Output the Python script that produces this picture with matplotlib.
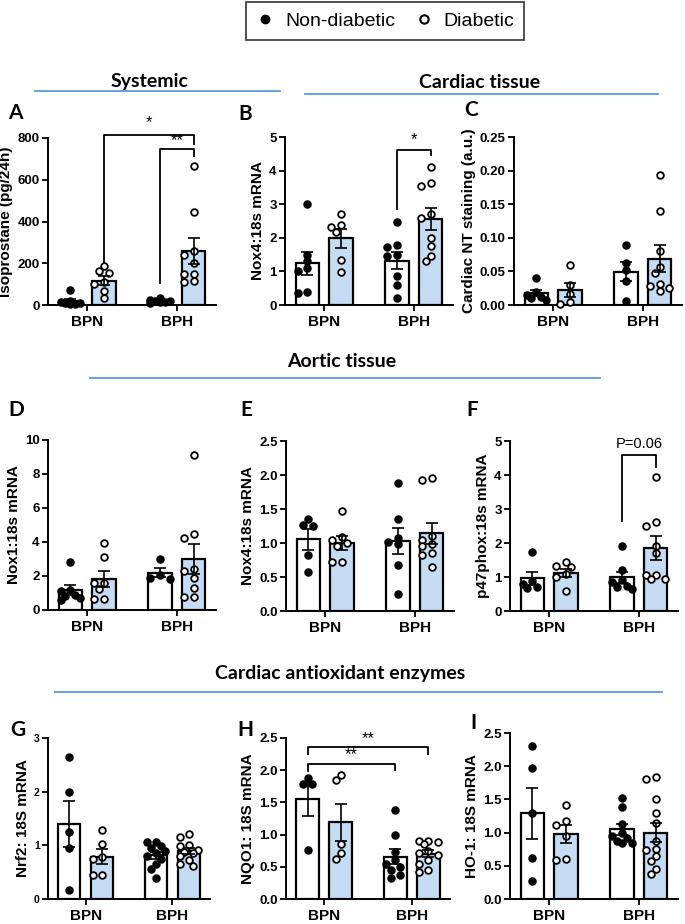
import numpy as np
import matplotlib.pyplot as plt
from matplotlib.lines import Line2D

W, H = 685, 924
fig = plt.figure(figsize=(W / 100, H / 100), dpi=100)

plt.rcParams["font.family"] = ["Liberation Sans", "DejaVu Sans"]

groups = ["BPN", "BPH"]
blue_fill = "#c6dcf4"
head_line = "#5b9bd5"

# -----------------------------
# data (BPN / BPH, non-diabetic vs diabetic)
# -----------------------------
iso_bpn_nd = [70, 18, 10, 5, 8, 12, 6]
iso_bpn_d = [186, 163, 155, 112, 100, 67, 33]
iso_bph_nd = [35, 25, 20, 15, 12, 18, 10]
iso_bph_d = [666, 446, 257, 241, 199, 150, 150, 115, 112]

nox4c_bpn_nd = [3.0, 1.5, 1.3, 1.1, 1.0, 0.4, 0.35]
nox4c_bpn_d = [2.7, 2.37, 2.32, 2.18, 1.35, 0.98]
nox4c_bph_nd = [2.47, 1.8, 1.72, 1.5, 1.45, 0.85, 0.6, 0.2]
nox4c_bph_d = [4.1, 3.62, 3.53, 2.7, 2.58, 2.0, 1.75, 1.45, 1.3]

nt_bpn_nd = [0.04, 0.02, 0.015, 0.012, 0.01, 0.008]
nt_bpn_d = [0.06, 0.03, 0.016, 0.004, 0.002]
nt_bph_nd = [0.090, 0.063, 0.052, 0.036, 0.006]
nt_bph_d = [0.193, 0.14, 0.08, 0.056, 0.048, 0.031, 0.028, 0.025, 0.021]

nox1_bpn_nd = [2.8, 1.2, 1.1, 0.9, 0.8, 0.7, 0.6]
nox1_bpn_d = [3.92, 3.1, 1.6, 1.25, 1.6, 0.65, 0.65]
nox1_bph_nd = [3.0, 2.05, 1.9, 1.8]
nox1_bph_d = [9.1, 4.5, 4.25, 2.4, 2.3, 1.9, 1.3, 0.75, 0.75]

nox4a_bpn_nd = [1.35, 1.26, 1.25, 0.83, 0.57]
nox4a_bpn_d = [1.47, 1.09, 1.05, 1.0, 0.95, 0.72, 0.72]
nox4a_bph_nd = [1.88, 1.35, 1.08, 1.02, 0.98, 0.68, 0.25]
nox4a_bph_d = [1.95, 1.93, 1.1, 1.05, 0.98, 0.95, 0.85, 0.82, 0.65]

p47_bpn_nd = [1.73, 0.88, 0.8, 0.7, 0.68]
p47_bpn_d = [1.45, 1.32, 1.28, 1.1, 1.0, 0.6]
p47_bph_nd = [1.9, 1.2, 0.9, 0.85, 0.75, 0.7, 0.65]
p47_bph_d = [3.93, 2.62, 2.5, 1.92, 1.7, 1.07, 1.05, 0.95, 0.93]

nrf2_bpn_nd = [2.65, 2.0, 1.25, 0.95, 0.17]
nrf2_bpn_d = [1.28, 1.03, 0.78, 0.75, 0.45, 0.45]
nrf2_bph_nd = [1.07, 1.06, 0.98, 0.95, 0.9, 0.85, 0.8, 0.75, 0.65, 0.55, 0.4]
nrf2_bph_d = [1.22, 1.15, 1.0, 0.98, 0.92, 0.88, 0.85, 0.8, 0.72, 0.65, 0.62]

nqo1_bpn_nd = [1.88, 1.78, 1.78, 0.76]
nqo1_bpn_d = [1.93, 1.85, 0.85, 0.72, 0.62]
nqo1_bph_nd = [1.38, 1.0, 0.73, 0.6, 0.55, 0.5, 0.45, 0.38, 0.33]
nqo1_bph_d = [0.9, 0.9, 0.88, 0.85, 0.75, 0.72, 0.68, 0.6, 0.55, 0.45, 0.42]

ho1_bpn_nd = [2.3, 1.97, 1.29, 0.62, 0.27]
ho1_bpn_d = [1.42, 1.18, 1.12, 0.95, 0.6, 0.59]
ho1_bph_nd = [1.52, 1.38, 1.13, 1.0, 0.95, 0.92, 0.88, 0.85, 0.84]
ho1_bph_d = [1.84, 1.8, 1.5, 1.29, 1.14, 0.87, 0.76, 0.74, 0.65, 0.57, 0.45, 0.38]

# -----------------------------
# panel layout (pixels: left, top, width, height)
# -----------------------------
panels = [
    ("A", "Isoprostane (pg/24h)", [iso_bpn_nd, iso_bpn_d, iso_bph_nd, iso_bph_d],
     np.arange(0, 801, 200), "{:.0f}", (48, 138, 168, 167)),
    ("B", "Nox4:18s mRNA", [nox4c_bpn_nd, nox4c_bpn_d, nox4c_bph_nd, nox4c_bph_d],
     np.arange(0, 6, 1), "{:.0f}", (285, 137, 168, 168)),
    ("C", "Cardiac NT staining (a.u.)", [nt_bpn_nd, nt_bpn_d, nt_bph_nd, nt_bph_d],
     np.arange(0, 0.26, 0.05), "{:.2f}", (514, 137, 168, 168)),
    ("D", "Nox1:18s mRNA", [nox1_bpn_nd, nox1_bpn_d, nox1_bph_nd, nox1_bph_d],
     np.arange(0, 11, 2), "{:.0f}", (48, 440, 168, 170)),
    ("E", "Nox4:18s mRNA", [nox4a_bpn_nd, nox4a_bpn_d, nox4a_bph_nd, nox4a_bph_d],
     np.arange(0, 2.6, 0.5), "{:.1f}", (286, 441, 168, 170)),
    ("F", "p47phox:18s mRNA", [p47_bpn_nd, p47_bpn_d, p47_bph_nd, p47_bph_d],
     np.arange(0, 6, 1), "{:.0f}", (510, 441, 168, 170)),
    ("G", "Nrf2: 18S mRNA", [nrf2_bpn_nd, nrf2_bpn_d, nrf2_bph_nd, nrf2_bph_d],
     np.arange(0, 4, 1), "{:.0f}", (48, 738, 162, 161)),
    ("H", "NQO1: 18S mRNA", [nqo1_bpn_nd, nqo1_bpn_d, nqo1_bph_nd, nqo1_bph_d],
     np.arange(0, 2.6, 0.5), "{:.1f}", (286, 738, 164, 161)),
    ("I", "HO-1: 18S mRNA", [ho1_bpn_nd, ho1_bpn_d, ho1_bph_nd, ho1_bph_d],
     np.arange(0, 2.6, 0.5), "{:.1f}", (510, 733, 168, 166)),
]

# significance brackets: (x_left, x_right, y_bar, y_left_end, y_right_end, label, y_text)
brackets = {
    "A": [(0.5, 3.15, 813, 207, 773, "*", 840),
          (2.15, 3.15, 746, 104, 714, "**", 752)],
    "B": [(2.15, 3.15, 4.62, 2.87, 4.47, "*", 4.7)],
    "F": [(2.15, 3.15, 4.6, 2.64, 4.25, "P=0.06", 4.72)],
    "H": [(-0.5, 2.15, 2.10, 1.99, 2.0, "**", 2.12),
          (-0.5, 3.15, 2.36, 2.25, 2.25, "**", 2.38)],
}

centers = [0.0, 2.65]
xlim = (-1.15, 3.8)
bar_w = 0.68


def swarm(ax, x0, vals, diam_px, step=0.14):
    tr = ax.transData
    placed = []
    xs = np.full(len(vals), x0, dtype=float)
    for i in np.argsort(vals)[::-1]:
        best, best_d = x0, -1
        for k in [0, -1, 1, -2, 2]:
            x = x0 + k * step
            p = tr.transform((x, vals[i]))
            d = min([np.hypot(*(p - q)) for q in placed], default=1e9)
            if d >= diam_px:
                best = x
                break
            if d > best_d:
                best, best_d = x, d
        xs[i] = best
        placed.append(tr.transform((best, vals[i])))
    return xs


for letter, ylab, series, yticks, fmt, (l, t, w, h) in panels:
    ax = fig.add_axes([l / W, 1 - (t + h) / H, w / W, h / H])
    ax.set_xlim(*xlim)
    ax.set_ylim(0, yticks[-1])
    for s in ["top", "right"]:
        ax.spines[s].set_visible(False)
    for s in ["left", "bottom"]:
        ax.spines[s].set_linewidth(1.4)

    for j, vals in enumerate(series):
        vals = np.array(vals, dtype=float)
        x0 = centers[j // 2] + (-0.5 if j % 2 == 0 else 0.5)
        mean = vals.mean()
        sem = vals.std(ddof=1) / np.sqrt(len(vals))
        fill = "white" if j % 2 == 0 else blue_fill
        ax.bar(x0, mean, width=bar_w, color=fill, edgecolor="black",
               linewidth=1.6, zorder=2)
        xs = swarm(ax, x0, vals, 6.5)
        face = "black" if j % 2 == 0 else "white"
        ax.plot(xs, vals, "o", ms=4.8, mfc=face, mec="black", mew=1.3,
                zorder=3, clip_on=False)
        ax.errorbar(x0, mean, yerr=sem, fmt="none", ecolor="black",
                    elinewidth=1.2, capsize=4, capthick=1.2, zorder=4)

    ax.set_yticks(yticks)
    ysize = 7.5 if letter == "G" else 9.5
    ax.set_yticklabels([fmt.format(v) for v in yticks], fontsize=ysize,
                       fontweight="bold")
    ax.set_xticks(centers)
    ax.set_xticklabels(groups, fontsize=11, fontweight="bold")
    ax.tick_params(axis="both", width=1.3, length=4)
    ax.tick_params(axis="x", pad=3)
    ax.tick_params(axis="y", pad=2)
    ax.set_ylabel(ylab, fontsize=11, fontweight="bold", labelpad=3)

    for x1, x2, yb, e1, e2, lab, yt in brackets.get(letter, []):
        ax.plot([x1, x1, x2, x2], [e1, yb, yb, e2], color="black", lw=1.3,
                clip_on=False, zorder=5)
        fs = 10.5 if lab.startswith("P") else 12
        ax.text((x1 + x2) / 2, yt, lab, ha="center", va="bottom", fontsize=fs,
                clip_on=False)

# panel letters
letters_pos = {"A": (15, 113), "B": (245, 114), "C": (471, 110),
               "D": (16, 410), "E": (246, 410), "F": (472, 410),
               "G": (18, 730), "H": (245, 730), "I": (474, 723)}
for k, (x, y) in letters_pos.items():
    fig.text(x / W, 1 - y / H, k, fontsize=15, fontweight="bold",
             family="Lato", ha="center", va="center")

# section headers with blue rules
headers = [("Systemic", 150, 82, 35, 280, 91),
           ("Cardiac tissue", 480, 82, 305, 658, 94),
           ("Aortic tissue", 342, 361, 90, 600, 378),
           ("Cardiac antioxidant enzymes", 340, 673, 55, 662, 692)]
for txt, cx, cy, x1, x2, ly in headers:
    fig.text(cx / W, 1 - cy / H, txt, fontsize=14, fontweight="bold",
             family="Lato", ha="center", va="center")
    fig.add_artist(Line2D([x1 / W, x2 / W], [1 - ly / H, 1 - ly / H],
                          color=head_line, lw=1.3))

# legend box at the top
handles = [Line2D([], [], ls="none", marker="o", ms=6, mfc="black", mec="black"),
           Line2D([], [], ls="none", marker="o", ms=6, mfc="white", mec="black",
                  mew=1.5)]
leg = fig.legend(handles, ["Non-diabetic", "Diabetic"], ncol=2,
                 loc="center", bbox_to_anchor=(385 / W, 1 - 21 / H),
                 fontsize=14, frameon=True, fancybox=False, edgecolor="black",
                 handletextpad=0.5, columnspacing=1.0, borderpad=0.5,
                 handlelength=1.0)
leg.get_frame().set_linewidth(1.2)

fig.savefig("out.png", dpi=100)
